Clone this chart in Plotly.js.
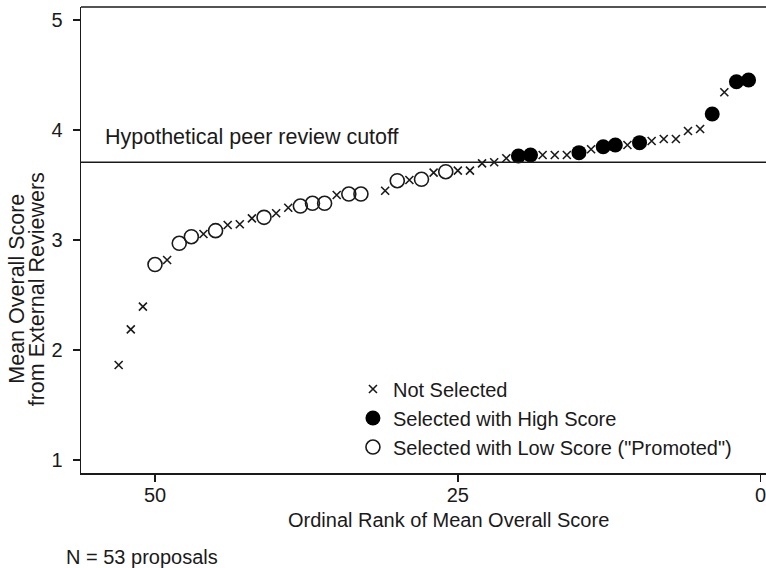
<!DOCTYPE html>
<html>
<head>
<meta charset="utf-8">
<script src="https://cdn.plot.ly/plotly-3.0.1.min.js"></script>
<style>html,body{margin:0;padding:0;background:#fff;}#chart{width:766px;height:568px;}</style>
</head>
<body>
<div id="chart"></div>
<script>
// Not selected proposals
var notSelectedRank  = [53, 52, 51, 49, 46, 44, 43, 42, 40, 39, 35, 31, 29, 27, 25, 24, 23, 22, 21, 18, 17, 16, 14, 11, 9, 8, 7, 6, 5, 3];
var notSelectedScore = [1.864, 2.188, 2.394, 2.818, 3.055, 3.136, 3.143, 3.197, 3.243, 3.293, 3.409, 3.448, 3.545, 3.612, 3.630, 3.630, 3.697, 3.707, 3.743, 3.773, 3.773, 3.773, 3.825, 3.864, 3.900, 3.918, 3.918, 3.991, 4.009, 4.343];
// Selected with high score
var highRank  = [20, 19, 15, 13, 12, 10, 4, 2, 1];
var highScore = [3.764, 3.773, 3.794, 3.848, 3.864, 3.885, 4.145, 4.439, 4.455];
// Selected with low score ("Promoted")
var lowRank  = [50, 48, 47, 45, 41, 38, 37, 36, 34, 33, 30, 28, 26];
var lowScore = [2.777, 2.970, 3.030, 3.085, 3.206, 3.309, 3.334, 3.334, 3.418, 3.418, 3.539, 3.552, 3.621];

var cutoff = 3.706;
var xTicks = [50, 25, 0];
var yTicks = [1, 2, 3, 4, 5];

var FONT = 'Liberation Sans, Arial, Helvetica, sans-serif';
var INK = '#1a1a1a';

var traces = [
  {x: notSelectedRank, y: notSelectedScore, mode: 'markers', type: 'scatter', name: 'Not Selected',
   marker: {symbol: 'x-thin-open', size: 8, color: INK, line: {color: INK, width: 1.6}}},
  {x: highRank, y: highScore, mode: 'markers', type: 'scatter', name: 'Selected with High Score',
   marker: {symbol: 'circle', size: 15, color: '#000', line: {width: 0}}},
  {x: lowRank, y: lowScore, mode: 'markers', type: 'scatter', name: 'Selected with Low Score ("Promoted")',
   marker: {symbol: 'circle-open', size: 14, color: INK, line: {color: INK, width: 1.6}}}
];

var layout = {
  width: 766, height: 568,
  margin: {l: 81, r: 0, t: 7, b: 95, pad: 0},
  paper_bgcolor: '#fff', plot_bgcolor: '#fff',
  font: {family: FONT, size: 20, color: INK},
  showlegend: true,
  legend: {x: 0.397, y: 0.222, xanchor: 'left', yanchor: 'top', bgcolor: 'rgba(0,0,0,0)',
           font: {family: FONT, size: 20, color: INK}, tracegroupgap: 0},
  xaxis: {range: [56.11, -0.44], tickvals: xTicks, ticktext: xTicks.map(String),
          showgrid: false, zeroline: false, showline: true, linecolor: INK, linewidth: 1.5,
          ticks: 'outside', ticklen: 7, tickwidth: 1.5, tickcolor: INK,
          ticklabeloverflow: 'allow', ticklabelstandoff: -4,
          tickfont: {family: FONT, size: 20, color: INK}},
  yaxis: {range: [0.882, 5.118], tickvals: yTicks, ticktext: yTicks.map(String),
          showgrid: false, zeroline: false, showline: true, linecolor: INK, linewidth: 1.5,
          ticks: 'outside', ticklen: 7, tickwidth: 1.5, tickcolor: INK, ticklabelstandoff: 6,
          tickfont: {family: FONT, size: 20, color: INK}},
  shapes: [
    {type: 'line', xref: 'paper', yref: 'y', x0: 0, x1: 1, y0: cutoff, y1: cutoff,
     line: {color: INK, width: 1.5}},
    {type: 'line', xref: 'paper', yref: 'paper', x0: 0, x1: 1, y0: 1, y1: 1,
     line: {color: INK, width: 1.5}}
  ],
  annotations: [
    {text: 'Hypothetical peer review cutoff', xref: 'paper', yref: 'y', x: 0.0321, y: 3.936,
     xanchor: 'left', yanchor: 'middle', showarrow: false, font: {family: FONT, size: 21.5, color: INK}},
    {text: 'Mean Overall Score', xref: 'paper', yref: 'paper', x: -0.0939, y: 0.3948,
     xanchor: 'center', yanchor: 'middle', textangle: -90, showarrow: false, font: {family: FONT, size: 21.5, color: INK}},
    {text: 'from External Reviewers', xref: 'paper', yref: 'paper', x: -0.0638, y: 0.3948,
     xanchor: 'center', yanchor: 'middle', textangle: -90, showarrow: false, font: {family: FONT, size: 21.5, color: INK}},
    {text: 'Ordinal Rank of Mean Overall Score', xref: 'paper', yref: 'paper', x: 0.5358, y: -0.1009,
     xanchor: 'center', yanchor: 'middle', showarrow: false, font: {family: FONT, size: 20, color: INK}},
    {text: 'N = 53 proposals', xref: 'paper', yref: 'paper', x: -0.0255, y: -0.180,
     xanchor: 'left', yanchor: 'middle', showarrow: false, font: {family: FONT, size: 20, color: INK}}
  ]
};

Plotly.newPlot('chart', traces, layout, {displayModeBar: false, staticPlot: true});
</script>
</body>
</html>
